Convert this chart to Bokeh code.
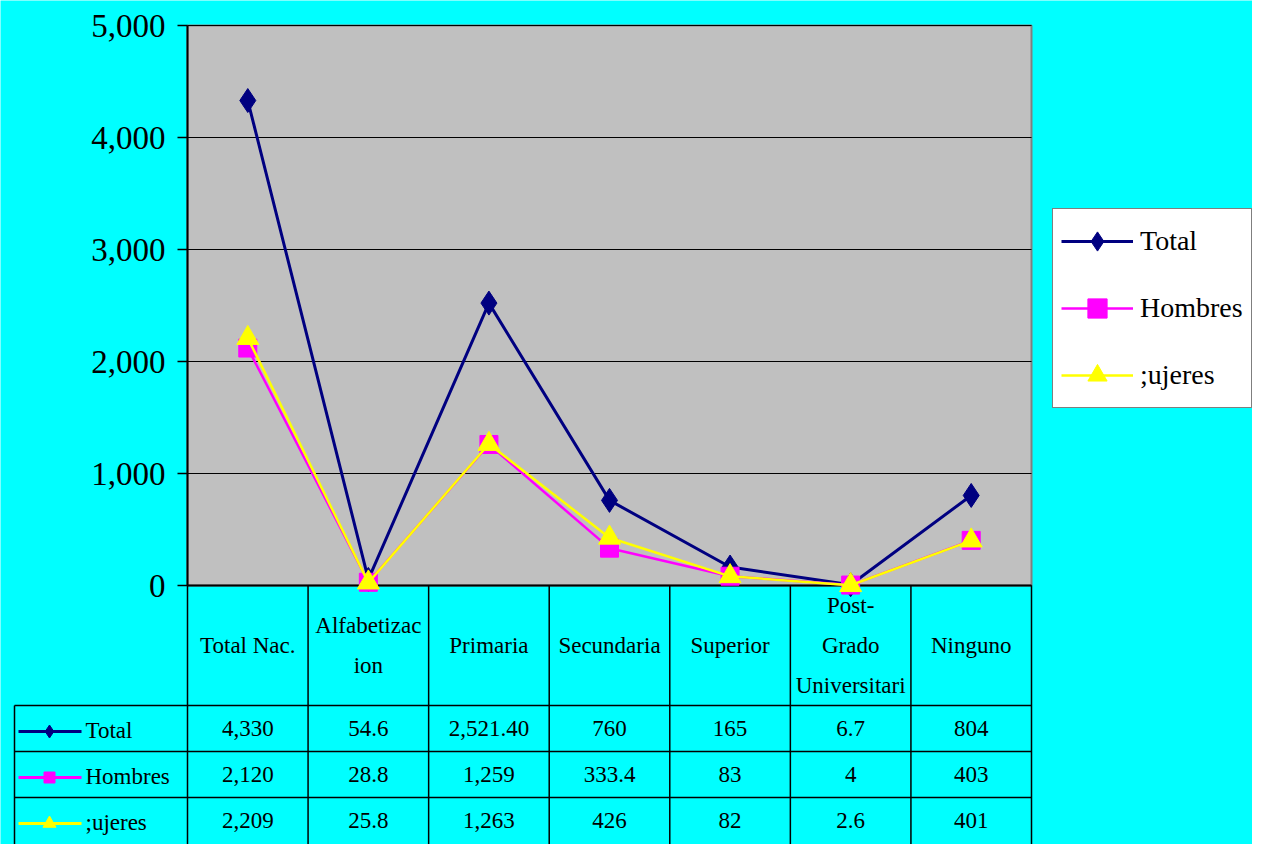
import numpy as np
from bokeh.plotting import figure
from bokeh.models import Range1d, FixedTicker, NumeralTickFormatter, Legend, LegendItem, LinearAxis
from bokeh.embed import file_html
from bokeh.resources import INLINE
from bokeh.core.properties import value

# ---------------- data ----------------
categories = ["Total Nac.", "Alfabetizac\nion", "Primaria", "Secundaria",
              "Superior", "Post-\nGrado\nUniversitari", "Ninguno"]
series_names = ["Total", "Hombres", ";ujeres"]
total = [4330, 54.6, 2521.4, 760, 165, 6.7, 804]
hombres = [2120, 28.8, 1259, 333.4, 83, 4, 403]
mujeres = [2209, 25.8, 1263, 426, 82, 2.6, 401]
total_labels = ["4,330", "54.6", "2,521.40", "760", "165", "6.7", "804"]
hombres_labels = ["2,120", "28.8", "1,259", "333.4", "83", "4", "403"]
mujeres_labels = ["2,209", "25.8", "1,263", "426", "82", "2.6", "401"]
y_ticks = [0, 1000, 2000, 3000, 4000, 5000]

# ---------------- style / layout constants (pixels) ----------------
CYAN = "#00FFFF"
GRAY = "#C0C0C0"
FONT = "Liberation Serif"
colors = ["#000080", "#FF00FF", "#FFFF00"]
markers = ["diamond", "square", "triangle"]
msizes = [24, 18, 22]
lwidths = [3, 2.5, 2.5]
series = [total, hombres, mujeres]
series_labels = [total_labels, hombres_labels, mujeres_labels]

n = len(categories)
xs = [i + 0.5 for i in range(n)]
y_max = y_ticks[-1]

W, H = 1252, 844
PLOT_L, PLOT_R, PLOT_T, PLOT_B = 187, 1031, 25, 585      # grey plotting area
unit = (PLOT_R - PLOT_L) / n                             # px per category
vpp = y_max / (PLOT_B - PLOT_T)                          # value per px


def dx(page_x):
    return (page_x - PLOT_L) / unit


def dy(page_y):
    return y_max - (page_y - PLOT_T) * vpp


p = figure(width=W, height=H,
           x_range=Range1d(dx(0), dx(W)),
           y_range=Range1d(dy(H), dy(0)),
           x_axis_location=None, y_axis_location=None,
           output_backend="svg", toolbar_location=None,
           min_border_left=0, min_border_right=0,
           min_border_top=0, min_border_bottom=0)
p.background_fill_color = CYAN
p.border_fill_color = CYAN
p.outline_line_color = None
p.grid.visible = False

# grey plotting area
p.quad(left=[0], right=[n], bottom=[0], top=[y_max], fill_color=GRAY,
       line_color="#808080", line_width=2)
# horizontal grid lines at the tick values
p.segment(x0=[0] * len(y_ticks), x1=[n] * len(y_ticks), y0=y_ticks, y1=y_ticks,
          line_color="black", line_width=1)

yaxis = LinearAxis(fixed_location=0, bounds=(0, y_max),
                   ticker=FixedTicker(ticks=y_ticks),
                   formatter=NumeralTickFormatter(format="0,0"))
yaxis.major_label_text_font = FONT
yaxis.major_label_text_font_size = "33px"
yaxis.major_label_text_color = "black"
yaxis.major_tick_out = 10
yaxis.major_tick_in = 0
yaxis.minor_tick_out = 0
yaxis.minor_tick_in = 0
yaxis.major_label_standoff = 12
yaxis.axis_line_color = "black"
yaxis.axis_line_width = 2
yaxis.major_tick_line_width = 1.5
p.add_layout(yaxis, "left")

# ---------------- data table ----------------
HEAD_B = 705
ROW_H = 46
row_lines_px = [HEAD_B, HEAD_B + ROW_H, HEAD_B + 2 * ROW_H]
row_mid_px = [HEAD_B + ROW_H * (k + 0.5) for k in range(3)]
TABLE_L = 14

# vertical lines
p.segment(x0=list(range(n + 1)), x1=list(range(n + 1)),
          y0=[0] * (n + 1), y1=[dy(H)] * (n + 1), line_color="black", line_width=1.5)
p.segment(x0=[dx(TABLE_L)], x1=[dx(TABLE_L)], y0=[dy(HEAD_B)], y1=[dy(H)],
          line_color="black", line_width=1.5)
# horizontal lines
p.segment(x0=[dx(TABLE_L)] * 3, x1=[n] * 3, y0=[dy(v) for v in row_lines_px],
          y1=[dy(v) for v in row_lines_px], line_color="black", line_width=1.5)
p.segment(x0=[0], x1=[n], y0=[0], y1=[0], line_color="black", line_width=2)

p.text(x=xs, y=[dy(645)] * n, text=categories, text_align="center", text_baseline="middle",
       text_font=value(FONT), text_font_size="23px", text_color="black", text_line_height=1.6)

for name, labs, c, m, ms, ypx in zip(series_names, series_labels, colors, markers, [13, 11, 13], row_mid_px):
    p.text(x=xs, y=[dy(ypx)] * n, text=labs, text_align="center", text_baseline="middle",
           text_font=value(FONT), text_font_size="23px", text_color="black")
    p.line(x=[dx(18), dx(81)], y=[dy(ypx + 3)] * 2, line_color=c, line_width=3)
    p.scatter(x=[dx(49)], y=[dy(ypx + 3)], marker=m, size=ms, fill_color=c, line_color=c)
    p.text(x=[dx(85)], y=[dy(ypx + 2)], text=[name], text_align="left", text_baseline="middle",
           text_font=value(FONT), text_font_size="23px", text_color="black")

# ---------------- series ----------------
items = []
for name, vals, c, m, ms, lw in zip(series_names, series, colors, markers, msizes, lwidths):
    rl = p.line(xs, vals, line_color=c, line_width=lw)
    rs = p.scatter(xs, vals, marker=m, size=ms, fill_color=c, line_color=c)
    items.append(LegendItem(label=name, renderers=[rl, rs]))

legend = Legend(items=items, location=(1052, H - 408))
legend.background_fill_color = "white"
legend.background_fill_alpha = 1
legend.border_line_color = "black"
legend.border_line_width = 1.5
legend.label_text_font = FONT
legend.label_text_font_size = "28px"
legend.label_text_color = "black"
legend.glyph_width = 72
legend.glyph_height = 48
legend.label_height = 48
legend.spacing = 19
legend.padding = 8
legend.margin = 0
legend.label_standoff = 7
p.add_layout(legend)

open("out.html", "w").write(file_html(p, INLINE))
